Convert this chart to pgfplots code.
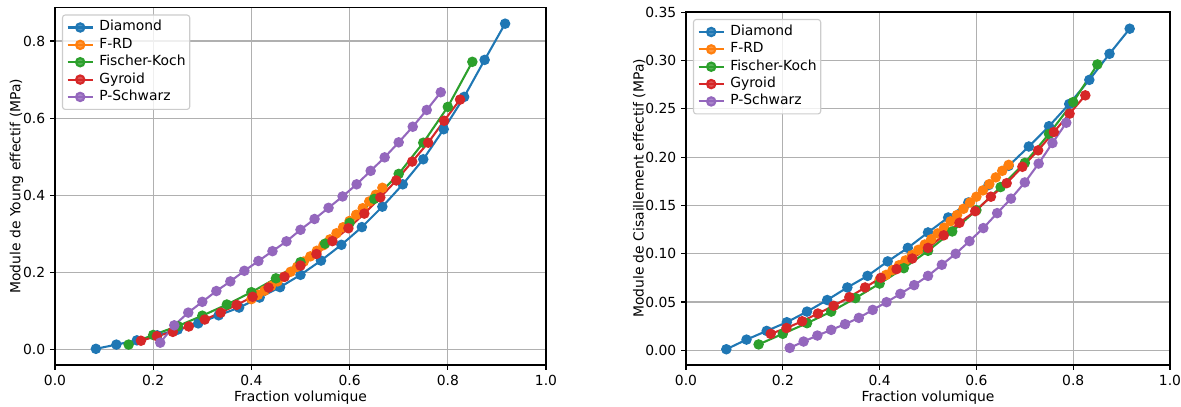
\documentclass[border=0pt]{standalone}
\usepackage{fontspec}
\setmainfont{DejaVu Sans}
\usepackage{pgfplots}
\usepackage{pgfplotstable}
\pgfplotsset{compat=1.18}
\definecolor{c0}{HTML}{1F77B4}
\definecolor{c1}{HTML}{FF7F0E}
\definecolor{c2}{HTML}{2CA02C}
\definecolor{c3}{HTML}{D62728}
\definecolor{c4}{HTML}{9467BD}
\definecolor{gridc}{HTML}{B0B0B0}

% x = volume fraction, E = Young modulus (MPa), G = shear modulus (MPa)
\pgfplotstableread{
x E G
0.0833 0.001 0.001
0.1250 0.012 0.011
0.1667 0.023 0.020
0.2083 0.036 0.029
0.2500 0.051 0.040
0.2917 0.067 0.052
0.3333 0.088 0.065
0.3750 0.108 0.077
0.4167 0.134 0.092
0.4583 0.161 0.106
0.5000 0.193 0.122
0.5417 0.230 0.1375
0.5833 0.271 0.153
0.6250 0.317 0.171
0.6667 0.370 0.191
0.7083 0.428 0.211
0.7500 0.493 0.232
0.7917 0.571 0.255
0.8333 0.655 0.280
0.8750 0.751 0.307
0.9167 0.845 0.333
}\diamondtab
\pgfplotstableread{
x E G
0.4000 0.130 0.073
0.4133 0.141 0.078
0.4267 0.152 0.083
0.4400 0.164 0.088
0.4533 0.176 0.093
0.4667 0.188 0.0985
0.4800 0.201 0.104
0.4933 0.214 0.1095
0.5067 0.2275 0.115
0.5200 0.241 0.121
0.5333 0.2555 0.127
0.5467 0.270 0.1335
0.5600 0.285 0.140
0.5733 0.301 0.1465
0.5867 0.3165 0.153
0.6000 0.333 0.159
0.6133 0.349 0.1655
0.6267 0.366 0.172
0.6400 0.3835 0.179
0.6533 0.401 0.1858
0.6667 0.419 0.192
}\frdtab
\pgfplotstableread{
x E G
0.15 0.012 0.006
0.20 0.037 0.017
0.25 0.060 0.028
0.30 0.087 0.040
0.35 0.116 0.054
0.40 0.148 0.069
0.45 0.184 0.085
0.50 0.226 0.103
0.55 0.274 0.123
0.60 0.328 0.145
0.65 0.390 0.169
0.70 0.455 0.194
0.75 0.536 0.224
0.80 0.629 0.257
0.85 0.746 0.296
}\fktab
\pgfplotstableread{
x E G
0.1750 0.022 0.017
0.2075 0.034 0.023
0.2400 0.045 0.030
0.2725 0.059 0.038
0.3050 0.077 0.046
0.3375 0.095 0.055
0.3700 0.115 0.065
0.4025 0.136 0.075
0.4350 0.160 0.084
0.4675 0.188 0.095
0.5000 0.217 0.106
0.5325 0.247 0.119
0.5650 0.2805 0.132
0.5975 0.314 0.144
0.6300 0.352 0.159
0.6625 0.394 0.173
0.6950 0.438 0.190
0.7275 0.487 0.207
0.7600 0.536 0.226
0.7925 0.593 0.245
0.8250 0.648 0.264
}\gyrtab
\pgfplotstableread{
x E G
0.2143 0.017 0.0024
0.2429 0.062 0.009
0.2714 0.095 0.0152
0.3000 0.123 0.0211
0.3286 0.151 0.027
0.3571 0.176 0.0335
0.3857 0.2035 0.0418
0.4143 0.229 0.0498
0.4429 0.2545 0.0584
0.4714 0.280 0.0674
0.5000 0.310 0.077
0.5286 0.338 0.0885
0.5571 0.367 0.0999
0.5857 0.3965 0.113
0.6143 0.428 0.1265
0.6429 0.463 0.142
0.6714 0.498 0.157
0.7000 0.537 0.1738
0.7286 0.5775 0.1933
0.7571 0.621 0.2146
0.7857 0.667 0.2356
}\pstab

\pgfplotsset{
  mpl/.style={
    scale only axis,
    xmin=0, xmax=1,
    xtick={0,0.2,0.4,0.6,0.8,1},
    xtick pos=bottom, ytick pos=left,
    tick align=outside, major tick length=3.5pt,
    every tick/.style={black, line width=0.8pt},
    axis line style={line width=0.8pt},
    grid=major, major grid style={color=gridc, line width=0.8pt},
    /pgf/number format/assume math mode=true,
    xticklabel style={/pgf/number format/.cd, fixed, fixed zerofill, precision=1},
    tick label style={font=\fontsize{10}{12}\selectfont},
    label style={font=\fontsize{10}{12}\selectfont},
    xlabel={Fraction volumique},
    xlabel shift=-2.8pt,
    ylabel shift=-7pt,
    legend cell align=left,
    legend style={at={(0,1)}, anchor=north west, xshift=5pt, yshift=-5pt,
      draw=black!20, line width=0.8pt, rounded corners=2pt,
      fill=white, fill opacity=0.8, text opacity=1, draw opacity=1,
      font=\fontsize{10}{12}\selectfont,
      inner xsep=3pt, inner ysep=4pt, row sep=2.5pt,
      nodes={inner sep=0pt, text height=7.5pt, text depth=2.5pt},
      /tikz/every odd column/.append style={column sep=4pt}},
    legend image code/.code={\draw[mark repeat=2,mark phase=2, line width=1.5pt] plot coordinates {(0pt,0pt) (9pt,0pt) (18pt,0pt)};},
    every axis plot/.append style={line width=1.5pt, mark=*, mark size=3pt},
  },
}

\begin{document}
\begin{tikzpicture}
\useasboundingbox (0,0) rectangle (850.32pt,292.32pt);
\begin{axis}[mpl,
  at={(39.6pt,29.52pt)}, anchor=south west,
  width=353.52pt, height=257.4pt,
  ymin=-0.041, ymax=0.887,
  ytick={0,0.2,0.4,0.6,0.8},
  yticklabel style={/pgf/number format/.cd, fixed, fixed zerofill, precision=1},
  ylabel={Module de Young effectif (MPa)},
]
\addplot[color=c0, mark options={fill=c0, draw=c0}] table[x=x, y=E] {\diamondtab};
\addlegendentry{Diamond}
\addplot[color=c1, mark options={fill=c1, draw=c1}] table[x=x, y=E] {\frdtab};
\addlegendentry{F-RD}
\addplot[color=c2, mark options={fill=c2, draw=c2}] table[x=x, y=E] {\fktab};
\addlegendentry{Fischer-Koch}
\addplot[color=c3, mark options={fill=c3, draw=c3}] table[x=x, y=E] {\gyrtab};
\addlegendentry{Gyroid}
\addplot[color=c4, mark options={fill=c4, draw=c4}] table[x=x, y=E] {\pstab};
\addlegendentry{P-Schwarz}
\end{axis}
\begin{axis}[mpl,
  at={(493.92pt,29.52pt)}, anchor=south west,
  width=348.48pt, height=254.16pt,
  ymin=-0.0153, ymax=0.3503,
  ytick={0,0.05,0.1,0.15,0.2,0.25,0.3,0.35},
  yticklabel style={/pgf/number format/.cd, fixed, fixed zerofill, precision=2},
  ylabel={Module de Cisaillement effectif (MPa)},
]
\addplot[color=c0, mark options={fill=c0, draw=c0}] table[x=x, y=G] {\diamondtab};
\addlegendentry{Diamond}
\addplot[color=c1, mark options={fill=c1, draw=c1}] table[x=x, y=G] {\frdtab};
\addlegendentry{F-RD}
\addplot[color=c2, mark options={fill=c2, draw=c2}] table[x=x, y=G] {\fktab};
\addlegendentry{Fischer-Koch}
\addplot[color=c3, mark options={fill=c3, draw=c3}] table[x=x, y=G] {\gyrtab};
\addlegendentry{Gyroid}
\addplot[color=c4, mark options={fill=c4, draw=c4}] table[x=x, y=G] {\pstab};
\addlegendentry{P-Schwarz}
\end{axis}
\end{tikzpicture}
\end{document}
